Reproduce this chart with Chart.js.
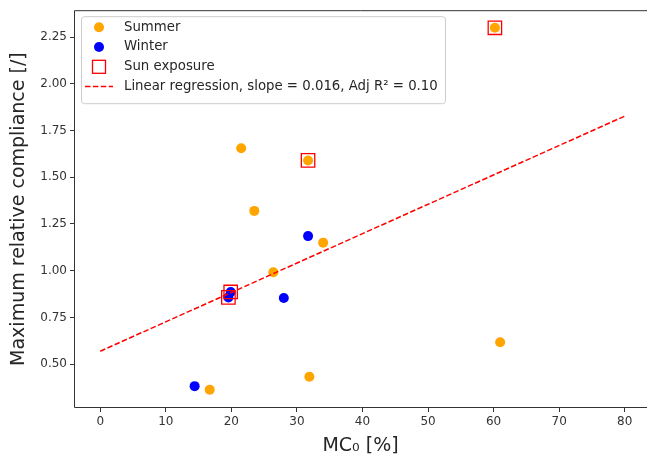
<!DOCTYPE html>
<html>
<head>
<meta charset="utf-8">
<script src="https://cdn.jsdelivr.net/npm/chart.js@4.4.0/dist/chart.umd.min.js"></script>
<style>
  html, body { margin: 0; padding: 0; background: #fff; }
  canvas { display: block; }
</style>
</head>
<body>
<canvas id="chart" width="647" height="457"></canvas>
<script>
// --- data ---
const summerX = [60.2, 21.5, 31.7, 23.5, 34.0, 26.4, 61.0, 31.9, 16.7];
const summerY = [2.30, 1.655, 1.59, 1.32, 1.15, 0.992, 0.617, 0.432, 0.363];
const winterX = [31.7, 28.0, 19.9, 19.55, 14.4];
const winterY = [1.185, 0.854, 0.886, 0.857, 0.382];
const sunX = [60.2, 31.7, 19.9, 19.55];
const sunY = [2.30, 1.59, 0.886, 0.857];
const regX = [0, 80];
const regY = [0.569, 1.827];
const xTicks = [0, 10, 20, 30, 40, 50, 60, 70, 80];
const yTicks = [0.50, 0.75, 1.00, 1.25, 1.50, 1.75, 2.00, 2.25];

const FONT = 'DejaVu Sans';
const INK = '#333333';

const toPts = (xs, ys) => xs.map((x, i) => ({ x: x, y: ys[i] }));

const legendItems = [
    { label: 'Summer', kind: 'dot', color: '#FFA500' },
    { label: 'Winter', kind: 'dot', color: '#0000FF' },
    { label: 'Sun exposure', kind: 'square', color: '#FF0000' },
    { label: 'Linear regression, slope = 0.016, Adj R\u00B2 = 0.10', kind: 'dash', color: '#FF0000' }
];

// spines (the right one is cropped off in the reference) + legend box
const framePlugin = {
    id: 'frame',
    afterDraw(chart) {
        const ctx = chart.ctx;
        const a = chart.chartArea;
        ctx.save();
        ctx.strokeStyle = INK;
        ctx.lineWidth = 1;
        ctx.beginPath();
        ctx.moveTo(a.right, a.top + 0.5);
        ctx.lineTo(a.left + 0.5, a.top + 0.5);
        ctx.lineTo(a.left + 0.5, a.bottom - 0.5);
        ctx.lineTo(a.right, a.bottom - 0.5);
        ctx.stroke();

        // legend
        const bx = a.left + 7, by = a.top + 6, bw = 364, bh = 87;
        ctx.beginPath();
        ctx.roundRect(bx + 0.5, by + 0.5, bw, bh, 3);
        ctx.fillStyle = 'rgba(255,255,255,0.8)';
        ctx.fill();
        ctx.strokeStyle = '#cccccc';
        ctx.stroke();

        ctx.font = '13.3px "' + FONT + '"';
        ctx.textBaseline = 'middle';
        legendItems.forEach((it, i) => {
            const cy = by + 11 + i * 19.8;
            const mx = bx + 18;
            if (it.kind === 'dot') {
                ctx.beginPath();
                ctx.arc(mx, cy, 5, 0, Math.PI * 2);
                ctx.fillStyle = it.color;
                ctx.fill();
            } else if (it.kind === 'square') {
                ctx.strokeStyle = it.color;
                ctx.lineWidth = 1.3;
                ctx.strokeRect(mx - 6.5, cy - 6.5, 13, 13);
            } else {
                ctx.strokeStyle = it.color;
                ctx.lineWidth = 1.5;
                ctx.setLineDash([5.5, 2.4]);
                ctx.beginPath();
                ctx.moveTo(mx - 14, cy);
                ctx.lineTo(mx + 14, cy);
                ctx.stroke();
                ctx.setLineDash([]);
            }
            ctx.fillStyle = '#262626';
            ctx.fillText(it.label, bx + 43, cy);
        });
        ctx.restore();
    }
};

new Chart(document.getElementById('chart'), {
    type: 'scatter',
    data: {
        datasets: [
            {
                label: 'Summer',
                data: toPts(summerX, summerY),
                backgroundColor: '#FFA500',
                borderWidth: 0,
                pointRadius: 5,
                order: 4
            },
            {
                label: 'Winter',
                data: toPts(winterX, winterY),
                backgroundColor: '#0000FF',
                borderWidth: 0,
                pointRadius: 5,
                order: 3
            },
            {
                label: 'Sun exposure',
                data: toPts(sunX, sunY),
                pointStyle: 'rect',
                backgroundColor: 'rgba(0,0,0,0)',
                borderColor: '#FF0000',
                borderWidth: 1.3,
                pointRadius: 9.5,
                order: 2
            },
            {
                label: 'Linear regression',
                data: toPts(regX, regY),
                showLine: true,
                borderColor: '#FF0000',
                borderWidth: 1.5,
                borderDash: [5.5, 2.4],
                pointRadius: 0,
                order: 1
            }
        ]
    },
    options: {
        responsive: false,
        animation: false,
        devicePixelRatio: 1,
        layout: { autoPadding: false, padding: { left: 0, right: 0, top: 9, bottom: 0 } },
        plugins: {
            legend: { display: false },
            tooltip: { enabled: false }
        },
        scales: {
            x: {
                type: 'linear',
                min: -4,
                max: 83.4,
                afterBuildTicks: s => { s.ticks = xTicks.map(v => ({ value: v })); },
                afterFit: s => { s.height = 49; },
                border: { display: false },
                grid: { drawOnChartArea: false, tickLength: 4, tickColor: INK, lineWidth: 1 },
                ticks: {
                    color: INK,
                    padding: 3,
                    maxRotation: 0,
                    font: { family: FONT, size: 12 },
                    callback: v => String(v)
                },
                title: {
                    display: true,
                    text: 'MC\u2080 [%]',
                    color: '#262626',
                    padding: { top: 0, bottom: 0 },
                    font: { family: FONT, size: 19 }
                }
            },
            y: {
                type: 'linear',
                min: 0.265,
                max: 2.394,
                afterBuildTicks: s => { s.ticks = yTicks.map(v => ({ value: v })); },
                afterFit: s => { s.width = 74; },
                border: { display: false },
                grid: { drawOnChartArea: false, tickLength: 4, tickColor: INK, lineWidth: 1 },
                ticks: {
                    color: INK,
                    padding: 3,
                    font: { family: FONT, size: 12 },
                    callback: v => v.toFixed(2)
                },
                title: {
                    display: true,
                    text: 'Maximum relative compliance [/]',
                    color: '#262626',
                    padding: { top: 8, bottom: 0 },
                    font: { family: FONT, size: 19 }
                }
            }
        }
    },
    plugins: [framePlugin]
});
</script>
</body>
</html>
